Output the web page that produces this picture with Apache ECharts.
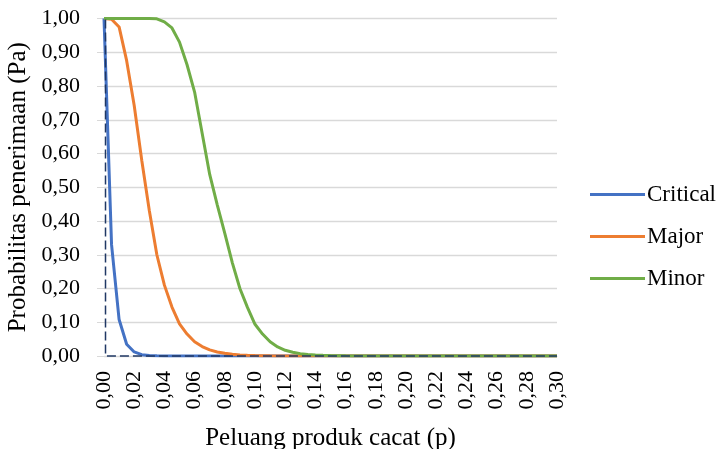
<!DOCTYPE html>
<html>
<head>
<meta charset="utf-8">
<script src="https://cdn.jsdelivr.net/npm/echarts@6/dist/echarts.min.js"></script>
<style>
  html, body { margin: 0; padding: 0; background: #fff; }
  #chart { width: 725px; height: 449px; }
</style>
</head>
<body>
<div id="chart"></div>
<script>
// Fraction defective p (step 0,005)
const pValues = [
  0.000, 0.005, 0.010, 0.015, 0.020, 0.025, 0.030, 0.035, 0.040, 0.045,
  0.050, 0.055, 0.060, 0.065, 0.070, 0.075, 0.080, 0.085, 0.090, 0.095,
  0.100, 0.105, 0.110, 0.115, 0.120, 0.125, 0.130, 0.135, 0.140, 0.145,
  0.150, 0.155, 0.160, 0.165, 0.170, 0.175, 0.180, 0.185, 0.190, 0.195,
  0.200, 0.205, 0.210, 0.215, 0.220, 0.225, 0.230, 0.235, 0.240, 0.245,
  0.250, 0.255, 0.260, 0.265, 0.270, 0.275, 0.280, 0.285, 0.290, 0.295,
  0.300
];

// Probability of acceptance (Pa) per defect class
const critical = [
  1.000, 0.330, 0.108, 0.035, 0.012, 0.004, 0.0013, 0.0004, 0.0001, 0,
  0, 0, 0, 0, 0, 0, 0, 0, 0, 0,
  0, 0, 0, 0, 0, 0, 0, 0, 0, 0,
  0, 0, 0, 0, 0, 0, 0, 0, 0, 0,
  0, 0, 0, 0, 0, 0, 0, 0, 0, 0,
  0, 0, 0, 0, 0, 0, 0, 0, 0, 0,
  0
];
const major = [
  1.000, 0.998, 0.975, 0.875, 0.742, 0.580, 0.431, 0.300, 0.210, 0.145,
  0.095, 0.065, 0.042, 0.028, 0.018, 0.012, 0.008, 0.005, 0.003, 0.002,
  0.0013, 0.0008, 0.0005, 0.0003, 0.0002, 0.0001, 0, 0, 0, 0,
  0, 0, 0, 0, 0, 0, 0, 0, 0, 0,
  0, 0, 0, 0, 0, 0, 0, 0, 0, 0,
  0, 0, 0, 0, 0, 0, 0, 0, 0, 0,
  0
];
const minor = [
  1.000, 1.000, 1.000, 1.000, 1.000, 1.000, 1.000, 0.999, 0.990, 0.972,
  0.930, 0.863, 0.782, 0.660, 0.538, 0.448, 0.363, 0.276, 0.200, 0.144,
  0.094, 0.065, 0.042, 0.027, 0.017, 0.011, 0.007, 0.0045, 0.003, 0.002,
  0.0012, 0.0008, 0.0005, 0.0003, 0.0002, 0.0001, 0, 0, 0, 0,
  0, 0, 0, 0, 0, 0, 0, 0, 0, 0,
  0, 0, 0, 0, 0, 0, 0, 0, 0, 0,
  0
];

// Ideal OC curve (dashed reference)
const idealP  = [-0.007, 0.001, 0.001, 0.300];
const idealPa = [1, 1, 0, 0];

const seriesNames = ['Critical', 'Major', 'Minor'];
const seriesColors = ['#4472C4', '#ED7D31', '#70AD47'];
const seriesValues = [critical, major, minor];

const FONT = '"Liberation Serif", "Times New Roman", serif';
const fmt = v => v.toFixed(2).replace('.', ',');

const chart = echarts.init(document.getElementById('chart'), null, { renderer: 'canvas' });

const curveSeries = seriesNames.map((name, k) => ({
  name: name,
  type: 'line',
  symbol: 'none',
  smooth: false,
  data: pValues.map((p, i) => [p, seriesValues[k][i]]),
  lineStyle: { color: seriesColors[k], width: 3 },
  itemStyle: { color: seriesColors[k] },
  z: 2 + k
}));

const option = {
  animation: false,
  backgroundColor: '#fff',
  textStyle: { fontFamily: FONT },
  grid: {
    left: 104, right: 168, top: 18.5, bottom: 93,
    containLabel: false,
    outerBoundsMode: 'none'
  },
  legend: {
    orient: 'vertical',
    left: 585,
    top: 178,
    icon: 'rect',
    itemWidth: 55,
    itemHeight: 3,
    itemGap: 19,
    data: seriesNames,
    textStyle: { fontFamily: FONT, fontSize: 23, color: '#000', padding: [0, 0, 0, -3] }
  },
  xAxis: {
    type: 'value',
    min: 0,
    max: 0.3,
    interval: 0.02,
    name: 'Peluang produk cacat (p)',
    nameLocation: 'middle',
    nameGap: 70,
    nameTextStyle: { fontFamily: FONT, fontSize: 25, color: '#000' },
    axisLine: { show: true, lineStyle: { color: '#d9d9d9', width: 1 } },
    axisTick: { show: false },
    splitLine: { show: false },
    axisLabel: {
      rotate: 90,
      margin: 15,
      fontFamily: FONT,
      fontSize: 22,
      color: '#000',
      formatter: fmt
    }
  },
  yAxis: {
    type: 'value',
    min: 0,
    max: 1,
    interval: 0.1,
    name: 'Probabilitas penerimaan (Pa)',
    nameLocation: 'middle',
    nameGap: 73,
    nameTextStyle: { fontFamily: FONT, fontSize: 25, color: '#000' },
    axisLine: { show: false },
    axisTick: { show: true, length: 7, lineStyle: { color: '#d9d9d9' } },
    splitLine: { show: true, lineStyle: { color: '#d9d9d9', width: 1.3 } },
    axisLabel: {
      margin: 24,
      fontFamily: FONT,
      fontSize: 22,
      color: '#000',
      formatter: fmt
    }
  },
  series: curveSeries.concat([{
    name: 'Ideal',
    type: 'line',
    symbol: 'none',
    clip: false,
    data: idealP.map((p, i) => [p, idealPa[i]]),
    lineStyle: { color: '#203864', width: 1.5, type: [9, 4] },
    z: 10,
    silent: true
  }])
};

chart.setOption(option);
</script>
</body>
</html>
